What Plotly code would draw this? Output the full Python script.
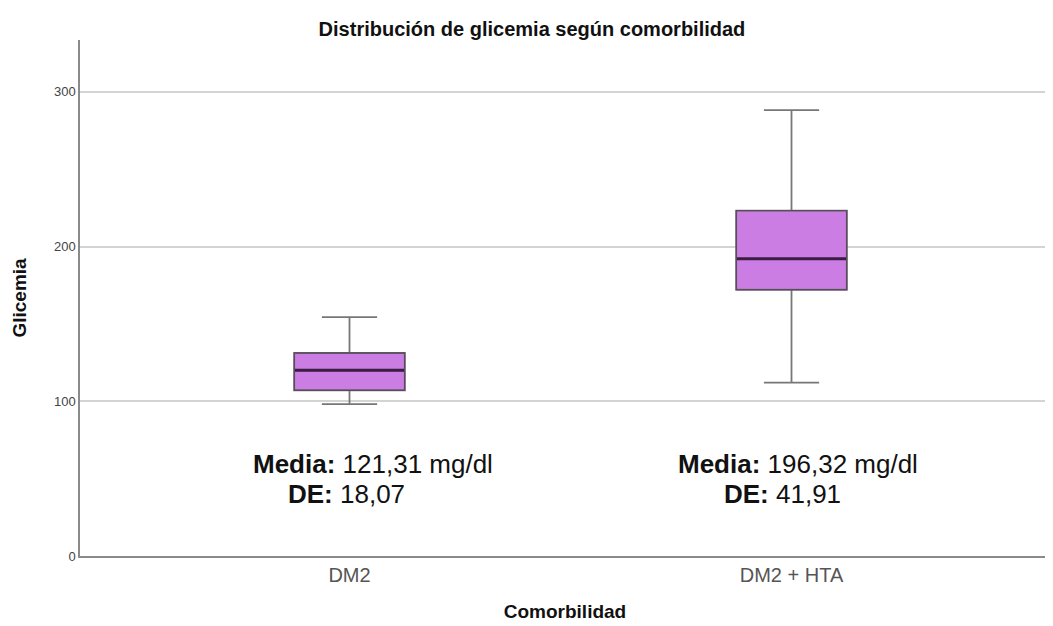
import plotly.graph_objects as go

categories = ["DM2", "DM2 + HTA"]
lower_whisker = [98.1, 112.1]
q1_values = [107.1, 172.1]
median_values = [120.0, 192.1]
q3_values = [131.2, 223.2]
upper_whisker = [154.4, 288.2]

mean_labels = ["121,31 mg/dl", "196,32 mg/dl"]
sd_labels = ["18,07", "41,91"]

y_ticks = [0, 100, 200, 300]

BOX_W = 0.25
positions = list(range(len(categories)))
FONT = "Liberation Sans, Arial, sans-serif"

fig = go.Figure()
fig.add_trace(go.Box(
    x=positions,
    q1=q1_values, median=median_values, q3=q3_values,
    lowerfence=lower_whisker, upperfence=upper_whisker,
    width=BOX_W, whiskerwidth=0.5,
    fillcolor="#CC7DE3",
    line=dict(color="#777777", width=1.8),
    marker=dict(opacity=0),
    boxpoints=False,
    showlegend=False,
    hoverinfo="skip",
))

# thick dark median lines
for p, m in zip(positions, median_values):
    fig.add_shape(type="line", xref="x", yref="y",
                  x0=p - BOX_W / 2, x1=p + BOX_W / 2, y0=m, y1=m,
                  line=dict(color="#3a1d42", width=3))

# darker box outline
for p, a, b in zip(positions, q1_values, q3_values):
    fig.add_shape(type="rect", xref="x", yref="y",
                  x0=p - BOX_W / 2, x1=p + BOX_W / 2, y0=a, y1=b,
                  line=dict(color="#5b4a60", width=1.4))

# annotations
media_x = [0.1765, 0.6145]
de_x = [0.2125, 0.6615]
for i in range(len(categories)):
    fig.add_annotation(xref="paper", yref="y", x=media_x[i], y=59.4,
                       xanchor="left", yanchor="middle", showarrow=False,
                       text="<b>Media:</b> " + mean_labels[i],
                       font=dict(family=FONT, size=26, color="#111111"))
    fig.add_annotation(xref="paper", yref="y", x=de_x[i], y=40.0,
                       xanchor="left", yanchor="middle", showarrow=False,
                       text="<b>DE:</b> " + sd_labels[i],
                       font=dict(family=FONT, size=26, color="#111111"))

fig.update_layout(
    width=1053, height=626,
    margin=dict(l=72, r=11, t=32, b=78),
    paper_bgcolor="white", plot_bgcolor="white",
    font=dict(family=FONT, color="#222222"),
    title=dict(text="<b>Distribución de glicemia según comorbilidad</b>",
               x=0.4976, xanchor="center", y=0.966, yanchor="middle",
               font=dict(size=20, color="#111111")),
)
fig.update_xaxes(
    range=[-0.6097, 1.5848],
    tickvals=positions, ticktext=categories,
    tickfont=dict(size=20, color="#555555"),
    showgrid=False, zeroline=False,
    showline=True, linecolor="#8a8a8a", linewidth=1.5,
    ticks="", ticklen=0,
    title=dict(text="<b>Comorbilidad</b>", font=dict(size=19, color="#111111"), standoff=20),
)
fig.update_yaxes(
    range=[0, 333.5],
    tickvals=y_ticks,
    tickfont=dict(size=13, color="#444444"),
    showgrid=True, gridcolor="#d4d4d4", gridwidth=1.8,
    zeroline=False,
    showline=True, linecolor="#8a8a8a", linewidth=1.5,
    ticks="",
    title=dict(text="<b>Glicemia</b>", font=dict(size=19, color="#111111"), standoff=22),
)

fig.write_html("out.html")
